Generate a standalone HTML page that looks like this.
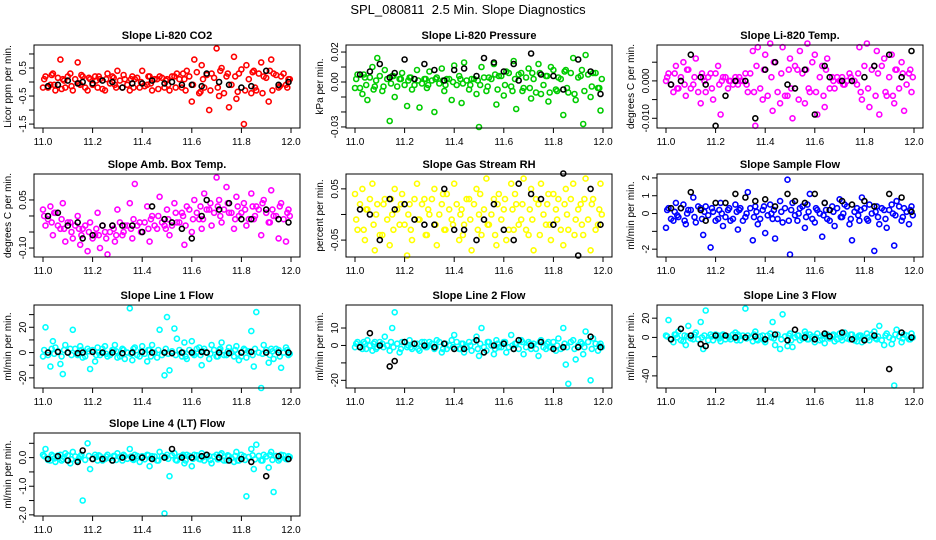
<!DOCTYPE html>
<html><head><meta charset="utf-8"><style>
body{margin:0;background:#fff;}
svg{display:block;font-family:"Liberation Sans",sans-serif;}
</style></head><body>
<svg id="chart" width="936" height="540" viewBox="0 0 936 540" xmlns="http://www.w3.org/2000/svg">
<rect width="936" height="540" fill="#fff"/>
<text x="468" y="14" text-anchor="middle" font-size="13">SPL_080811&#160; 2.5 Min. Slope Diagnostics</text>
</svg>
<script>
const xTicks=[11.0,11.2,11.4,11.6,11.8,12.0];
const xTickLabels=["11.0","11.2","11.4","11.6","11.8","12.0"];
const times=[11.00,11.01,11.03,11.04,11.05,11.07,11.08,11.09,11.11,11.12,11.14,11.15,11.16,11.18,11.19,11.21,11.22,11.23,11.25,11.26,11.28,11.29,11.30,11.32,11.33,11.35,11.36,11.37,11.39,11.40,11.42,11.43,11.44,11.46,11.47,11.49,11.50,11.51,11.53,11.54,11.56,11.57,11.58,11.60,11.61,11.63,11.64,11.65,11.67,11.68,11.70,11.71,11.72,11.74,11.75,11.77,11.78,11.79,11.81,11.82,11.84,11.85,11.86,11.88,11.89,11.91,11.92,11.93,11.95,11.96,11.98,11.99];
const times2=[11.005,11.02,11.035,11.045,11.06,11.075,11.085,11.1,11.115,11.13,11.145,11.155,11.17,11.185,11.2,11.215,11.225,11.24,11.255,11.27,11.285,11.295,11.31,11.325,11.34,11.355,11.365,11.38,11.395,11.41,11.425,11.435,11.45,11.465,11.48,11.495,11.505,11.52,11.535,11.55,11.565,11.575,11.59,11.605,11.62,11.635,11.645,11.66,11.675,11.69,11.705,11.715,11.73,11.745,11.76,11.775,11.785,11.8,11.815,11.83,11.845,11.855,11.87,11.885,11.9,11.915,11.925,11.94,11.955,11.97,11.985,11.995];
const blackTimes=[11.02,11.06,11.10,11.14,11.16,11.20,11.24,11.28,11.32,11.36,11.40,11.44,11.49,11.52,11.56,11.60,11.64,11.66,11.71,11.75,11.80,11.84,11.90,11.95,11.99];

const co2=[-0.2,0.2,-0.1,0.3,-0.3,0.8,0.1,-0.2,0.3,-0.3,0.7,-0.1,0.2,-0.3,0.1,0.2,-0.2,0.1,-0.3,0.3,0.2,-0.1,0.4,-0.2,0.1,-0.3,0.2,0.1,-0.2,0.4,-0.1,0.2,-0.3,0.1,0.2,-0.2,0.1,-0.3,0.2,0.3,-0.2,0.1,0.4,-0.7,0.8,-0.4,0.6,-0.2,-1.0,0.3,1.2,-0.5,0.5,0.2,-0.9,0.9,-0.6,0.3,-1.5,0.6,-0.4,0.4,-0.3,0.7,0.2,-0.7,0.8,0.3,-0.2,0.2,-0.1,0.1];
const co2Band=[0.1,-0.2,0.25,-0.1,0.15,-0.25,0.05,0.2,-0.15,0.1,-0.05,0.25,-0.2,0.15,-0.1,0.05,0.2,-0.25,0.1,-0.05,0.15,-0.2,0.05,0.25,-0.1,0.1,-0.2,0.15,0.0,-0.15,0.2,-0.05,0.1,-0.25,0.15,0.05,-0.1,0.2,-0.2,0.1,0.3,-0.3,0.2,-0.1,0.35,-0.35,0.1,0.25,-0.3,0.15,-0.2,0.4,-0.4,0.3,-0.1,0.2,-0.35,0.45,-0.3,0.1,0.35,-0.2,0.3,-0.4,0.15,0.4,-0.3,0.25,-0.15,0.3,-0.2,0.1];
const co2Black=[-0.15,-0.1,0.05,-0.05,0.0,-0.05,0.05,0.0,-0.2,-0.05,-0.05,0.05,-0.05,0.0,-0.1,-0.1,-0.15,0.3,0.0,-0.1,-0.2,-0.15,0.4,-0.1,0.0];
const pres=[-0.004,0.005,-0.008,0.003,-0.012,0.010,-0.003,0.016,-0.006,0.008,-0.026,0.004,-0.010,0.002,0.006,-0.016,0.003,-0.005,0.008,-0.017,0.002,-0.004,0.007,-0.020,0.003,0.009,-0.006,0.002,-0.012,0.011,0.004,-0.014,0.013,-0.005,0.002,-0.008,-0.030,0.010,-0.006,0.003,0.012,-0.015,0.004,-0.009,0.007,-0.003,0.014,-0.018,0.006,-0.004,0.009,-0.011,0.002,0.012,-0.008,0.004,-0.013,0.010,-0.005,0.003,-0.022,0.008,-0.007,0.016,-0.012,0.004,-0.028,0.018,-0.010,0.006,-0.004,-0.019];
const presBand=[0.002,-0.004,0.005,-0.002,0.003,-0.005,0.001,0.004,-0.003,0.002,-0.001,0.004,-0.003,0.002,-0.002,0.001,0.003,-0.002,0.001,-0.001,0.002,-0.002,0.001,0.002,-0.001,0.001,-0.002,0.002,0.000,-0.002,0.002,-0.001,0.001,-0.002,0.002,0.001,-0.002,0.003,-0.003,0.002,0.005,-0.005,0.004,-0.002,0.006,-0.006,0.002,0.005,-0.006,0.003,-0.004,0.006,-0.007,0.006,-0.002,0.004,-0.007,0.008,-0.006,0.002,0.007,-0.004,0.006,-0.008,0.003,0.008,-0.006,0.005,-0.003,0.006,-0.004,0.002];
const presBlack=[0.005,0.007,0.012,0.003,0.006,0.015,0.002,0.012,0.008,0.001,0.008,0.009,0.004,0.016,0.013,0.007,0.012,0.001,0.019,0.005,0.004,-0.005,0.015,0.007,-0.008];
const temp=[0.000,0.002,-0.003,0.004,-0.002,0.005,-0.004,0.003,-0.001,0.006,-0.006,0.001,-0.003,0.002,-0.005,0.004,-0.009,0.001,-0.002,0.000,0.001,-0.001,0.000,0.002,-0.003,0.008,-0.012,0.009,-0.005,0.007,0.010,-0.008,0.005,-0.006,0.009,-0.004,0.006,-0.010,0.003,0.008,-0.006,0.010,-0.003,0.007,-0.009,0.004,-0.007,0.006,0.001,-0.002,0.000,0.001,-0.001,0.002,0.000,-0.001,0.009,-0.005,0.010,-0.007,0.004,0.008,-0.009,0.006,-0.004,0.007,-0.006,0.003,0.005,-0.008,0.002,-0.003];
const tempBand=[0.001,-0.001,0.002,-0.002,0.001,-0.001,0.003,-0.002,0.001,-0.003,0.002,0.000,0.001,-0.002,0.002,-0.001,0.000,0.001,0.000,-0.001,0.000,0.001,0.000,-0.001,0.002,-0.003,0.004,-0.002,0.003,-0.004,0.001,0.005,-0.003,0.002,-0.004,0.003,-0.002,0.004,-0.005,0.002,0.003,-0.002,0.005,-0.003,0.001,-0.004,0.003,-0.002,0.000,0.001,0.000,-0.001,0.000,0.001,0.000,0.002,-0.003,0.004,-0.002,0.003,-0.004,0.002,0.004,-0.003,0.001,-0.004,0.003,-0.002,0.002,-0.001,0.003,0.001];
const tempBlack=[-0.001,0.000,0.007,0.001,-0.001,-0.012,-0.004,0.000,0.000,-0.010,0.003,0.005,-0.001,-0.002,0.003,-0.009,0.004,0.001,0.000,0.000,0.001,0.004,0.007,0.001,0.008];
const amb=[0.02,-0.03,0.03,-0.06,0.01,-0.04,0.04,-0.08,-0.02,-0.07,0.00,-0.09,-0.04,-0.11,-0.02,-0.06,0.01,-0.10,-0.05,-0.12,-0.03,-0.08,0.02,-0.06,-0.03,0.04,-0.07,0.10,-0.02,-0.05,0.03,-0.08,0.00,-0.04,0.06,-0.03,0.02,-0.06,0.04,-0.02,0.01,-0.09,0.03,-0.05,0.05,-0.01,-0.04,0.07,0.02,-0.03,0.12,0.05,-0.02,0.09,0.01,-0.04,0.06,0.00,0.04,-0.03,0.07,-0.01,0.03,-0.06,0.05,-0.02,0.08,0.00,-0.07,0.04,-0.08,0.02];
const ambBand=[0.00,-0.01,-0.02,0.01,-0.03,-0.01,-0.04,-0.02,-0.05,-0.03,-0.04,-0.06,-0.03,-0.05,-0.07,-0.04,-0.06,-0.03,-0.07,-0.05,-0.04,-0.06,-0.02,-0.05,-0.03,-0.04,-0.01,-0.03,-0.05,-0.02,-0.04,-0.01,-0.03,0.00,-0.02,-0.04,-0.01,-0.03,0.01,-0.02,0.00,-0.03,0.02,-0.01,0.01,0.03,-0.01,0.02,0.04,0.01,0.03,0.00,0.02,0.04,0.01,-0.01,0.03,0.01,0.02,-0.01,0.03,0.00,0.02,0.04,0.01,-0.02,0.02,0.00,0.03,-0.01,0.01,0.00];
const ambBlack=[0.00,0.01,-0.03,-0.02,-0.07,-0.06,-0.03,-0.03,-0.03,-0.03,-0.05,0.03,-0.01,-0.02,-0.04,-0.07,0.00,0.05,0.02,0.04,-0.01,-0.01,0.02,-0.01,-0.02];
const rh=[0.04,-0.03,0.05,-0.05,0.01,0.06,-0.07,0.02,-0.04,0.03,-0.06,0.00,0.05,-0.02,0.04,-0.08,0.02,-0.05,0.06,-0.01,0.03,-0.04,0.00,0.05,-0.06,0.02,-0.03,0.04,-0.01,0.06,-0.05,0.01,-0.02,0.03,-0.07,0.05,0.00,-0.04,0.07,-0.02,0.03,-0.06,0.04,0.01,-0.05,0.06,-0.03,0.02,-0.01,0.07,-0.04,0.05,-0.07,0.02,0.06,-0.02,0.04,-0.05,0.01,0.03,-0.06,0.05,-0.03,0.06,-0.01,0.02,-0.04,0.07,-0.07,0.03,-0.02,0.06];
const rhBand=[-0.01,0.02,-0.03,0.01,0.03,-0.02,0.00,-0.04,0.02,-0.01,0.03,-0.03,0.01,0.02,-0.02,0.00,-0.03,0.03,-0.01,0.02,-0.04,0.01,0.03,-0.02,0.00,0.04,-0.03,0.01,-0.02,0.02,0.00,-0.04,0.03,-0.01,0.02,-0.03,0.04,0.01,-0.02,0.00,-0.04,0.02,-0.01,0.03,-0.03,0.01,0.04,-0.02,0.02,-0.03,0.01,-0.01,0.03,-0.04,0.00,0.02,-0.02,0.04,-0.01,-0.03,0.02,0.00,0.03,-0.04,0.01,-0.02,0.03,-0.01,0.02,-0.03,0.01,0.00];
const rhBlack=[0.01,0.00,-0.05,0.03,0.01,0.02,-0.01,-0.02,-0.02,0.05,-0.03,-0.03,-0.05,-0.01,0.02,-0.03,-0.05,0.06,0.04,0.03,-0.02,0.08,-0.08,0.05,-0.02];
const flow=[-0.8,0.3,-0.4,0.6,-0.2,0.5,-0.6,0.2,0.9,-0.5,0.3,-1.2,0.4,-1.9,0.1,-0.3,0.6,-0.7,0.2,-0.4,0.5,-0.9,0.3,-0.2,1.2,-1.5,0.4,-0.6,0.2,-1.1,0.5,-0.3,-1.4,0.7,-0.5,1.9,-2.3,0.6,-0.4,0.3,-0.8,0.5,1.1,-0.5,0.2,-1.3,0.6,-0.3,0.4,-0.7,0.8,-0.2,0.5,-0.6,-1.5,0.3,-0.4,0.9,-0.3,0.5,-2.1,0.4,-0.6,0.2,-0.8,0.5,-1.8,0.7,-0.4,0.3,-0.6,0.4];
const flowBand=[0.2,-0.3,0.1,-0.1,0.3,-0.4,0.0,0.2,-0.2,0.4,-0.3,0.1,-0.1,0.3,-0.4,0.2,0.0,-0.2,0.3,-0.3,0.1,0.2,-0.4,0.0,0.3,-0.2,0.1,-0.3,0.4,-0.1,0.0,0.2,-0.3,0.1,0.3,-0.4,0.2,-0.1,0.0,0.4,-0.2,0.1,-0.3,0.3,0.0,-0.1,0.2,-0.4,0.1,0.3,-0.2,0.0,0.4,-0.3,0.1,-0.1,0.2,0.3,-0.4,0.0,0.1,-0.2,0.3,-0.3,0.2,0.0,-0.1,0.4,-0.2,0.1,0.2,-0.1];
const flowBlack=[0.3,0.3,1.2,0.2,-0.4,0.6,0.6,1.1,0.9,0.7,0.8,0.4,1.1,0.7,0.6,1.1,0.6,0.2,0.7,0.5,0.7,0.4,1.1,0.9,0.1];
const line1=[-3,20,-11,9,4,-9,-17,6,3,18,-2,5,-4,3,-13,-7,4,-2,5,-3,2,6,-4,3,-5,35,-6,4,-3,5,-7,2,6,-4,18,-18,28,-14,19,11,-3,8,-5,9,-2,4,-10,3,-5,6,-3,2,8,-2,4,-3,5,-6,3,-4,17,-11,32,-28,6,-8,3,-5,2,-12,4,-2];
const line1Band=[2,-2,3,-1,1,-3,2,0,-2,3,-1,2,-3,1,2,-2,0,3,-1,-2,2,1,-3,2,0,-1,3,-2,1,-1,2,-3,0,2,-2,3,-1,1,-2,2,0,-3,2,-1,3,-2,1,0,-1,2,-3,3,-2,1,0,2,-1,-3,2,1,-2,3,0,-1,2,-2,1,3,-3,0,2,-1];
const line1Black=[0,0.5,0,-0.5,0,0.5,0,0,-0.5,0,0.5,0,0,-0.5,0,0,0.5,0,0,-0.5,0,0.5,0,0,0];
const line2=[-1,2,-2,1,3,-3,2,-1,1,5,-3,10,19,-4,2,-1,3,-2,1,-3,2,-1,2,-2,3,-4,1,-2,3,6,-2,1,-4,2,-3,5,-6,10,-3,2,-5,3,-1,2,-4,6,-2,1,3,-5,2,-2,1,-6,3,-2,2,-1,-3,4,10,-11,-22,3,-8,2,-5,8,-20,4,-3,1];
const line2Band=[1,-1,2,-2,0,1,-2,2,-1,0,2,-1,1,-2,2,0,-1,1,-2,2,-1,0,1,-1,2,-2,1,0,-1,2,-2,1,-1,0,2,-2,1,-1,2,0,-2,1,-1,2,-1,0,1,-2,2,-1,1,0,-2,2,-1,1,-1,2,0,-2,1,-1,2,-2,0,1,-1,2,-2,1,0,-1];
const line2Black=[-1,7,0,-12,-9,2,1,0,-1,1,-2,-2,3,-4,0,1,-2,3,0,2,-2,-1,-1,5,-1];
const line3=[2,18,-5,3,6,-4,-8,12,-2,5,16,-12,28,3,-3,2,-4,3,1,-2,5,3,-3,30,2,-4,6,-3,2,-5,4,16,-8,-12,24,-9,4,-10,2,-3,6,-2,3,-5,4,-2,-6,3,2,-4,4,-3,5,-2,3,-4,2,-5,4,-3,6,-2,12,-8,4,-7,-50,8,-5,3,-2,4];
const line3Band=[1,-2,3,0,-3,2,1,-1,3,-2,0,2,-3,1,3,-1,2,-2,0,3,-3,1,2,-1,0,3,-2,1,-3,2,0,-1,3,-2,1,2,-3,0,2,-1,3,-2,1,0,-3,2,1,-1,3,-2,0,2,-1,3,-3,1,2,-2,0,3,-1,1,-3,2,0,-2,3,1,-1,2,-2,0];
const line3Black=[-2,9,2,-7,-9,2,2,0,0,1,-2,3,-3,8,0,-2,4,1,5,-2,-3,2,-33,5,0];
const line4=[0.1,0.3,-0.1,0.05,-0.15,0.1,-0.05,0.15,-0.2,0.2,-0.1,0.05,-1.5,0.5,-0.4,0.1,-0.1,0.05,-0.05,0.1,-0.1,0.05,0.15,-0.1,0.05,0.3,-0.05,0.1,-0.15,0.05,0.1,-0.3,0.05,-0.1,0.2,-1.95,0.1,-0.65,0.15,-0.1,0.05,-0.2,0.1,-0.3,0.1,-0.05,0.15,-0.1,0.05,-0.2,0.1,-0.05,0.15,-0.1,0.05,-0.15,0.2,-0.1,0.05,-1.35,0.3,-0.4,0.45,-0.1,0.1,-0.35,0.2,-1.2,-0.1,0.1,-0.05,0.05];
const line4Band=[0.05,-0.08,0.1,-0.03,0.07,-0.1,0.02,0.08,-0.06,0.04,-0.02,0.1,-0.08,0.06,-0.04,0.02,0.08,-0.1,0.04,-0.02,0.06,-0.08,0.02,0.1,-0.04,0.04,-0.08,0.06,0.0,-0.06,0.08,-0.02,0.04,-0.1,0.06,0.02,-0.04,0.08,-0.08,0.04,0.1,-0.1,0.06,-0.04,0.08,-0.06,0.02,0.1,-0.08,0.04,-0.06,0.1,-0.1,0.08,-0.02,0.06,-0.1,0.1,-0.08,0.02,0.08,-0.06,0.06,-0.1,0.04,0.1,-0.08,0.06,-0.04,0.08,-0.06,0.02];
const line4Black=[-0.05,0.05,-0.1,-0.15,0.25,-0.05,-0.05,-0.1,0.0,0.0,0.0,-0.05,0.0,0.3,0.0,0.0,0.05,0.1,0.0,-0.1,-0.05,-0.15,-0.65,0.05,-0.05];

const panels=[
 {id:"co2",col:0,row:0,title:"Slope Li-820 CO2",ylab:"Licor ppm per min.",color:"#ff0000",ylim:[-1.64,1.32],ticks:[-1.5,-1,-0.5,0,0.5,1],tl:["-1.5","","-0.5","","0.5",""],c:co2,c2:co2Band,b:co2Black},
 {id:"pressure",col:1,row:0,title:"Slope Li-820 Pressure",ylab:"kPa per min.",color:"#00cc00",ylim:[-0.0307,0.0247],ticks:[-0.03,-0.02,-0.01,0,0.01,0.02],tl:["-0.03","","","0.00","","0.02"],c:pres,c2:presBand,b:presBlack},
 {id:"temp",col:2,row:0,title:"Slope Li-820 Temp.",ylab:"degrees C per min.",color:"#ff00ff",ylim:[-0.0126,0.0096],ticks:[-0.01,-0.005,0,0.005],tl:["-0.010","","0.000",""],c:temp,c2:tempBand,b:tempBlack},
 {id:"amb-box-temp",col:0,row:1,title:"Slope Amb. Box Temp.",ylab:"degrees C per min.",color:"#ff00ff",ylim:[-0.128,0.131],ticks:[-0.1,-0.05,0,0.05],tl:["-0.10","","","0.05"],c:amb,c2:ambBand,b:ambBlack},
 {id:"gas-rh",col:1,row:1,title:"Slope Gas Stream RH",ylab:"percent per min.",color:"#ffff00",ylim:[-0.083,0.079],ticks:[-0.05,0,0.05],tl:["-0.05","","0.05"],c:rh,c2:rhBand,b:rhBlack},
 {id:"sample-flow",col:2,row:1,title:"Slope Sample Flow",ylab:"ml/min per min.",color:"#0000ff",ylim:[-2.44,2.22],ticks:[-2,-1,0,1,2],tl:["-2","","0","1","2"],c:flow,c2:flowBand,b:flowBlack},
 {id:"line1",col:0,row:2,title:"Slope Line 1 Flow",ylab:"ml/min per min.",color:"#00ffff",ylim:[-28,37.6],ticks:[-20,-10,0,10,20,30],tl:["-20","","0","","20",""],c:line1,c2:line1Band,b:line1Black},
 {id:"line2",col:1,row:2,title:"Slope Line 2 Flow",ylab:"ml/min per min.",color:"#00ffff",ylim:[-24.4,23.2],ticks:[-20,-10,0,10],tl:["-20","","0","10"],c:line2,c2:line2Band,b:line2Black},
 {id:"line3",col:2,row:2,title:"Slope Line 3 Flow",ylab:"ml/min per min.",color:"#00ffff",ylim:[-52.6,33.7],ticks:[-40,-20,0,20],tl:["-40","","0","20"],c:line3,c2:line3Band,b:line3Black},
 {id:"line4",col:0,row:3,title:"Slope Line 4 (LT) Flow",ylab:"ml/min per min.",color:"#00ffff",ylim:[-2.04,0.86],ticks:[-2,-1.5,-1,-0.5,0,0.5],tl:["-2.0","","-1.0","","0.0",""],c:line4,c2:line4Band,b:line4Black}
];

const svg=document.getElementById('chart');
const NS="http://www.w3.org/2000/svg";
const colLeft=[34,346,657], rowTop=[45,174,305,433], boxW=266, boxH=83;
function mk(tag,attrs,parent){const e=document.createElementNS(NS,tag);for(const k in attrs)e.setAttribute(k,attrs[k]);parent.appendChild(e);return e;}

panels.forEach(p=>{
  const L=colLeft[p.col], T=rowTop[p.row], B=T+boxH;
  const xs=v=>L+9+(v-11)*248;
  const ys=v=>B-(v-p.ylim[0])/(p.ylim[1]-p.ylim[0])*boxH;
  const g=mk('g',{},svg);
  
  
  const t=mk('text',{x:L+boxW/2,y:T-6,'text-anchor':'middle','font-size':11,'font-weight':'bold'},g);
  
  
  t.textContent=p.title;
  const yl=mk('text',{x:0,y:0,'text-anchor':'middle','font-size':10,transform:`translate(${L-23},${T+boxH/2}) rotate(-90)`},g);
  
  
  yl.textContent=p.ylab;
  const pts=mk('g',{fill:'none','stroke-width':1.6},g);
  
  
  const n=Math.min(times.length,p.c.length);
  for(let i=0;i<n;i++){
    const c=mk('circle',{cx:xs(times[i]).toFixed(1),cy:ys(p.c[i]).toFixed(1),r:2.5,stroke:p.color},pts);
    
    
  }
  const n2=Math.min(times2.length,p.c2.length);
  for(let i=0;i<n2;i++){
    const c=mk('circle',{cx:xs(times2[i]).toFixed(1),cy:ys(p.c2[i]).toFixed(1),r:2.5,stroke:p.color},pts);
    
    
  }
  const bp=mk('g',{fill:'none','stroke-width':1.6},g);
  
  
  const m=Math.min(blackTimes.length,p.b.length);
  for(let i=0;i<m;i++){
    const c=mk('circle',{cx:xs(blackTimes[i]).toFixed(1),cy:ys(p.b[i]).toFixed(1),r:2.5,stroke:'#000'},bp);
    
    
  }
  const box=mk('rect',{x:L,y:T,width:boxW,height:boxH,fill:'none',stroke:'#000','stroke-width':1},g);
  
  
  const xa=mk('g',{},g);
  
  
  mk('line',{x1:xs(xTicks[0]),x2:xs(xTicks[xTicks.length-1]),y1:B,y2:B,stroke:'#000'},xa);
  xTicks.forEach((v,i)=>{
    mk('line',{x1:xs(v),x2:xs(v),y1:B,y2:B+5,stroke:'#000'},xa);
    const tx=mk('text',{x:xs(v),y:B+17,'text-anchor':'middle','font-size':10},xa);
    
    
    tx.textContent=xTickLabels[i];
  });
  const ya=mk('g',{},g);
  
  
  p.ticks.forEach((v,i)=>{
    const y=ys(v);
    mk('line',{x1:L-5,x2:L,y1:y,y2:y,stroke:'#000'},ya);
    if(p.tl[i]){
      const tx=mk('text',{x:0,y:0,'text-anchor':'middle','font-size':10,transform:`translate(${L-8},${y.toFixed(1)}) rotate(-90)`},ya);
      
      
      tx.textContent=p.tl[i];
    }
  });
});
</script>
</body></html>
